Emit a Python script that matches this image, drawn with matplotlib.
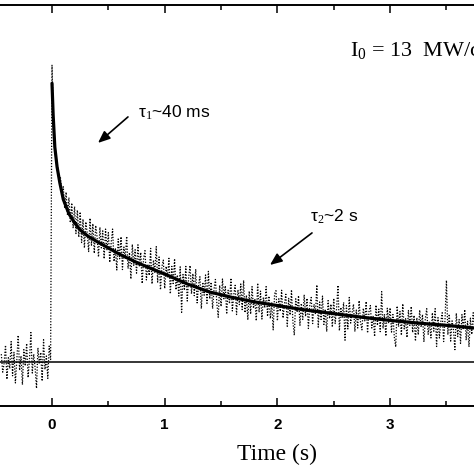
import numpy as np
import matplotlib
matplotlib.use("Agg")
import matplotlib.pyplot as plt
from matplotlib.ticker import MultipleLocator

# ---- data ----
dt = 0.0125
t_start = -0.45
signal = [
    # t < 0 (baseline)
    0.12, -0.08, 0.02, 0.22, -0.16, 0.08, -0.04, 0.26, -0.12, 0.14,
    -0.20, 0.05, 0.33, -0.06, 0.10, -0.22, 0.17, -0.01, 0.24, -0.14,
    0.06, 0.36, -0.09, 0.12, -0.03, -0.26, 0.19, 0.01, 0.14, -0.18,
    0.28, -0.05, 0.10, -0.15, 0.21, 0.06,
    # t >= 0
    3.33, 2.70, 2.45, 2.30, 2.20, 2.08, 2.08, 1.90, 1.98, 1.74,
    1.92, 1.66, 1.86, 1.58, 1.80, 1.52, 1.76, 1.46, 1.72, 1.42,
    1.70, 1.36, 1.62, 1.30, 1.59, 1.46, 1.26, 1.63, 1.33, 1.57,
    1.24, 1.55, 1.42, 1.20, 1.53, 1.30, 1.49, 1.18, 1.51, 1.28,
    1.47, 1.14, 1.355, 1.51, 1.15, 1.29, 1.055, 1.40, 1.18, 1.425,
    1.06, 1.31, 1.185, 1.43, 1.07, 1.25, 0.955, 1.34, 1.10, 1.28,
    1.02, 1.335, 1.09, 1.25, 0.905, 1.18, 1.27, 0.945, 1.12, 0.995,
    1.295, 0.90, 1.165, 1.03, 1.315, 0.92, 1.20, 0.835, 1.09, 1.165,
    0.85, 1.095, 0.97, 1.185, 0.79, 1.095, 0.905, 1.18, 0.835, 1.00,
    0.765, 1.09, 0.585, 1.005, 0.83, 1.095, 0.71, 0.975, 1.105, 0.79,
    1.015, 0.77, 1.065, 0.69, 0.885, 0.98, 0.625, 0.92, 0.775, 1.00,
    0.685, 1.04, 0.735, 0.92, 0.625, 0.84, 0.95, 0.685, 0.53, 0.885,
    0.65, 0.955, 0.735, 0.88, 0.565, 0.83, 0.68, 0.965, 0.60, 0.775,
    0.885, 0.56, 0.835, 0.67, 0.90, 0.615, 0.94, 0.58, 0.775, 0.50,
    0.82, 0.565, 0.87, 0.63, 0.735, 0.49, 0.91, 0.585, 0.82, 0.51,
    0.745, 0.635, 0.87, 0.54, 0.765, 0.515, 0.69, 0.39, 0.79, 0.825,
    0.49, 0.735, 0.595, 0.83, 0.52, 0.675, 0.785, 0.43, 0.74, 0.555,
    0.835, 0.48, 0.33, 0.735, 0.585, 0.77, 0.44, 0.685, 0.505, 0.78,
    0.54, 0.74, 0.405, 0.665, 0.75, 0.46, 0.675, 0.565, 0.89, 0.42,
    0.70, 0.505, 0.765, 0.45, 0.62, 0.37, 0.715, 0.515, 0.675, 0.42,
    0.74, 0.46, 0.625, 0.885, 0.38, 0.64, 0.52, 0.695, 0.275, 0.66,
    0.40, 0.75, 0.465, 0.575, 0.675, 0.37, 0.61, 0.41, 0.715, 0.475,
    0.39, 0.63, 0.49, 0.705, 0.355, 0.59, 0.66, 0.41, 0.545, 0.315,
    0.665, 0.44, 0.62, 0.37, 0.815, 0.405, 0.565, 0.32, 0.63, 0.47,
    0.635, 0.365, 0.56, 0.31, 0.20, 0.655, 0.425, 0.595, 0.33, 0.68,
    0.40, 0.515, 0.305, 0.605, 0.44, 0.65, 0.36, 0.55, 0.265, 0.525,
    0.335, 0.61, 0.42, 0.56, 0.255, 0.515, 0.625, 0.34, 0.48, 0.30,
    0.58, 0.375, 0.625, 0.205, 0.525, 0.30, 0.48, 0.58, 0.26, 0.51,
    0.94, 0.335, 0.565, 0.265, 0.49, 0.39, 0.17, 0.575, 0.315, 0.505,
    0.24, 0.56, 0.39, 0.615, 0.275, 0.485, 0.20, 0.52, 0.34, 0.58,
    0.40,
]
time = t_start + dt * np.arange(len(signal))

fit_t = [0, 0.01, 0.025, 0.045, 0.07, 0.1, 0.15, 0.2, 0.25, 0.32, 0.4, 0.5,
         0.6, 0.75, 0.9, 1.0, 1.2, 1.4, 1.6, 1.8, 2.0, 2.25, 2.5, 2.75, 3.0,
         3.25, 3.5, 3.75, 4.0]
fit_y = [3.13, 2.78, 2.42, 2.2, 2.02, 1.84, 1.68, 1.58, 1.50, 1.43, 1.37, 1.30,
         1.23, 1.14, 1.06, 1.01, 0.90, 0.81, 0.75, 0.70, 0.66, 0.61, 0.57, 0.53,
         0.495, 0.465, 0.44, 0.41, 0.39]

baseline = 0.033
x_ticks = [0, 1, 2, 3]
x_ticklabels = ["0", "1", "2", "3"]
y_ticks = [0, 1, 2, 3]

fig = plt.figure(figsize=(4.74, 4.74), dpi=100)
ax = fig.add_axes([-0.0567, 0.1435, 1.165, 0.846])

ax.plot(time, signal, color="black", lw=0.9, linestyle=(0, (1, 1.3)))
ax.plot(fit_t, fit_y, color="black", lw=2.3, solid_capstyle="round")
ax.axhline(baseline, color="black", lw=1.1)

ax.set_xlim(-0.7, 4.2)
ax.set_ylim(-0.456, 4.0)
ax.set_xticks(x_ticks)
ax.set_xticklabels(x_ticklabels)
ax.set_yticks(y_ticks)
ax.xaxis.set_minor_locator(MultipleLocator(0.5))
ax.tick_params(which="both", direction="in", top=True, right=True, width=1.1,
               labelleft=False)
ax.tick_params(which="major", length=6, pad=9)
ax.tick_params(which="minor", length=3.5)
for lab in ax.get_xticklabels():
    lab.set_fontfamily("Liberation Sans")
    lab.set_fontweight("bold")
    lab.set_fontsize(11)
for sp in ax.spines.values():
    sp.set_linewidth(1.4)

ax.set_xlabel("Time (s)", fontfamily="Liberation Serif", fontsize=17)
ax.xaxis.set_label_coords((2.0 + 0.7) / 4.9, -0.094)

plt.rcParams["mathtext.fontset"] = "custom"
plt.rcParams["mathtext.rm"] = "Liberation Serif"
plt.rcParams["mathtext.it"] = "Liberation Serif:italic"

ax.text(2.644, 3.42, r"I$_\mathrm{0}$ = 13  MW/cm$^\mathrm{2}$",
        fontfamily="Liberation Serif", fontsize=16, ha="left", va="baseline")

ax.text(0.763, 2.80, "τ$_\\mathrm{1}$~40 ms", fontfamily="Liberation Sans",
        fontsize=12.5, ha="left", va="center")
ax.annotate("", xy=(0.408, 2.467), xytext=(0.674, 2.756),
            arrowprops=dict(arrowstyle="-|>,head_length=0.6,head_width=0.25",
                            color="black", lw=1.2,
                            mutation_scale=12, shrinkA=0, shrinkB=0))
ax.text(2.289, 1.644, "τ$_\\mathrm{2}$~2 s", fontfamily="Liberation Sans",
        fontsize=12.5, ha="left", va="center")
ax.annotate("", xy=(1.934, 1.111), xytext=(2.307, 1.467),
            arrowprops=dict(arrowstyle="-|>,head_length=0.6,head_width=0.25",
                            color="black", lw=1.2,
                            mutation_scale=12, shrinkA=0, shrinkB=0))

fig.savefig("out.png", dpi=100)
